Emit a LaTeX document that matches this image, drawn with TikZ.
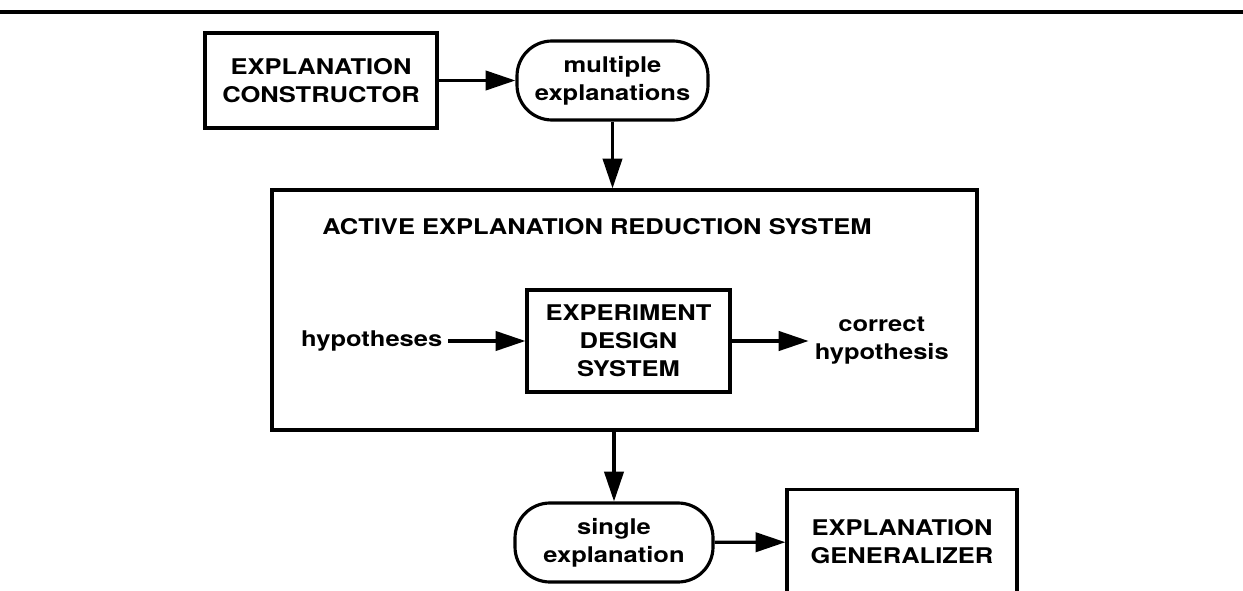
\documentclass[tikz,border=0pt]{standalone}
\usepackage{fontspec}
\setmainfont{TeX Gyre Heros}[FakeStretch=1.18]
\usetikzlibrary{positioning,arrows.meta}
\newcommand{\dgfont}{\fontsize{12.3}{16}\selectfont\bfseries}

\begin{document}
\begin{tikzpicture}[
  blk/.style={rectangle, draw, line width=1.8pt, font=\dgfont,
              minimum width=4.64cm, minimum height=1.9cm, align=center},
  term/.style={rectangle, draw, line width=1.8pt, rounded corners=0.7cm, font=\dgfont,
               minimum width=3.82cm, minimum height=1.58cm, align=center},
  sys/.style={rectangle, draw, line width=1.8pt, minimum width=14.1cm, minimum height=4.8cm},
  lbl/.style={font=\dgfont, align=center},
  ar/.style={-{Triangle[length=17pt,width=11pt]}, line width=1.8pt},
]
\useasboundingbox (0,0) rectangle (24.86,11.8);
\clip (0,0) rectangle (24.86,11.8);

\draw[line width=1.8pt] (0,11.56) -- (24.86,11.56);

\node[blk]  (con)  at (6.42,10.19)  {EXPLANATION\\CONSTRUCTOR};
\node[term] (mult) at (12.25,10.19) {multiple\\explanations};
\draw[ar] (con.east) -- (mult.west);

\node[sys] (aers) at (12.49,5.6) {};
\node[lbl, anchor=base west, inner sep=0pt] (title) at (6.44,7.11)
  {ACTIVE EXPLANATION REDUCTION SYSTEM};
\draw[ar] (mult.south) -- (mult.south|-aers.north);

\node[blk, minimum width=4.06cm, minimum height=2.04cm] (eds) at (12.57,4.98)
  {EXPERIMENT\\DESIGN\\SYSTEM};
\node[lbl, left=1.54cm of eds]  (hyp)  {hypotheses};
\node[lbl, right=1.54cm of eds] (corr) {correct\\hypothesis};
\draw[ar] (hyp) -- (eds);
\draw[ar] (eds) -- (corr);

\node[term, minimum width=3.96cm] (single) at (12.28,0.95) {single\\explanation};
\node[blk, minimum width=4.6cm, minimum height=2.1cm] (gen) at (18.04,0.96)
  {EXPLANATION\\GENERALIZER};
\draw[ar] (single.north|-aers.south) -- (single.north);
\draw[ar] (single) -- (gen);

\end{tikzpicture}
\end{document}
